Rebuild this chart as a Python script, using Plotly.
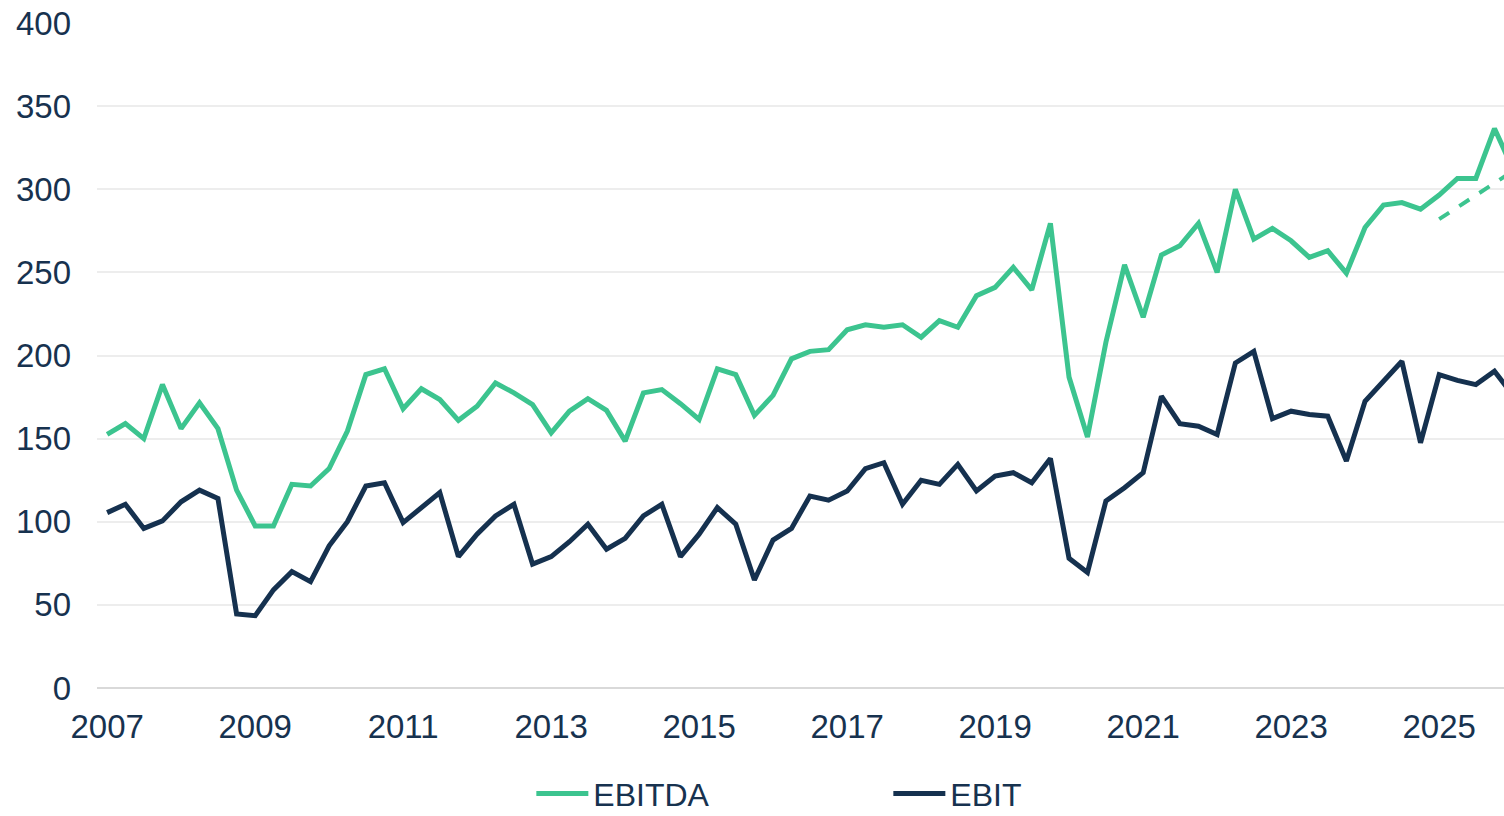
import pandas as pd
import plotly.graph_objects as go

quarters = pd.date_range("2007-01-01", periods=77, freq="QS")

ebitda = [152.5, 159, 150, 182.5, 156, 171.5, 156, 119, 97.5, 97.5,
          122.5, 121.5, 132, 154.5, 188.5, 192, 168, 180, 173.5, 161,
          169.5, 183.5, 177.5, 170.5, 153.5, 166.5, 174, 167, 148.5, 177.5,
          179.5, 171, 161.5, 192, 188.5, 164, 176, 198, 202.5, 203.5,
          215.5, 218.5, 217, 218.5, 211, 221, 217, 236, 241, 253,
          239.5, 279.5, 187, 151, 208, 254.5, 223, 260.5, 266, 279.5,
          250, 300, 270, 276.5, 269, 259, 263, 249.5, 277, 290.5,
          292, 288, 296.5, 306.5, 306.5, 336.5, 312]

ebit = [105.5, 110.5, 96, 100.5, 112, 119, 114, 44.5, 43.5, 59,
        70, 64, 85.5, 100, 121.5, 123.5, 99.5, 108, 117.5, 79,
        92.5, 103.5, 110.5, 74.5, 79, 88, 98.5, 83.5, 90, 103.5,
        110.5, 79, 92.5, 108.5, 98.5, 65, 89, 96, 115.5, 113,
        118.5, 132, 135.5, 110.5, 125, 122.5, 134.5, 118.5, 127.5, 129.5,
        123.5, 138, 78, 69.5, 112.5, 120.5, 129.5, 175.5, 159, 157.5,
        152.5, 195.5, 202.5, 162, 166.5, 164.5, 163.5, 136.5, 172.5, 184.5,
        196.5, 147.5, 188.5, 185, 182.5, 190.5, 176]

trend_dates = ["2025-01-01", "2026-01-01"]
trend_vals = [282, 311]

GREEN = "#3CC48F"
NAVY = "#15314F"
TXT = "#17324F"
FONT = "Liberation Sans, Arial, sans-serif"

fig = go.Figure()
fig.add_trace(go.Scatter(x=quarters, y=ebitda, mode="lines", name="EBITDA",
                         line=dict(color=GREEN, width=5)))
fig.add_trace(go.Scatter(x=quarters, y=ebit, mode="lines", name="EBIT",
                         line=dict(color=NAVY, width=5)))
fig.add_trace(go.Scatter(x=trend_dates, y=trend_vals, mode="lines", showlegend=False,
                         line=dict(color=GREEN, width=4, dash="dash")))

fig.update_layout(
    width=1504, height=816,
    margin=dict(l=97, r=0, t=23, b=128, autoexpand=False),
    paper_bgcolor="white", plot_bgcolor="white",
    font=dict(family=FONT, size=32, color=TXT),
    showlegend=True,
    legend=dict(orientation="h", x=0.3087, xanchor="left", y=-0.159, yanchor="middle",
                font=dict(size=32, color=TXT), itemwidth=52, entrywidth=290,
                bgcolor="rgba(0,0,0,0)"),
)
fig.update_xaxes(
    type="date", automargin=False,
    range=["2006-11-12", "2025-11-17"],
    tickvals=["2007-01-01", "2009-01-01", "2011-01-01", "2013-01-01", "2015-01-01",
              "2017-01-01", "2019-01-01", "2021-01-01", "2023-01-01", "2025-01-01"],
    ticktext=["2007", "2009", "2011", "2013", "2015", "2017", "2019", "2021", "2023", "2025"],
    showgrid=False, showline=False, zeroline=False, ticks="",
    ticklabelstandoff=16,
    tickfont=dict(size=33, color=TXT),
)
fig.update_yaxes(
    range=[0, 400], tickvals=[0, 50, 100, 150, 200, 250, 300, 350, 400], automargin=False,
    showgrid=True, gridcolor="#EDEDED", gridwidth=1.5,
    zeroline=True, zerolinecolor="#D9D9D9", zerolinewidth=2,
    showline=False, ticks="", ticklabelstandoff=25,
    tickfont=dict(size=33, color=TXT),
)

fig.write_html("out.html", config={"displayModeBar": False},
               post_script="document.body.style.margin='0';")
